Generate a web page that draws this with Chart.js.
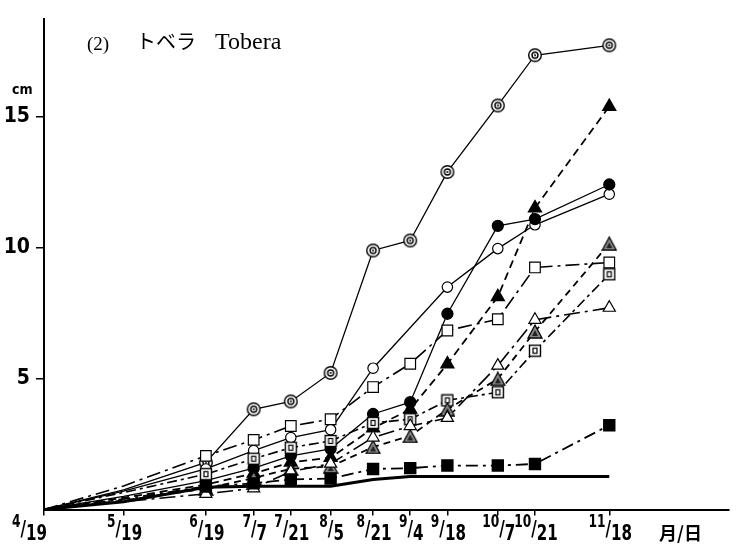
<!DOCTYPE html>
<html><head><meta charset="utf-8">
<script src="https://cdn.jsdelivr.net/npm/chart.js@4/dist/chart.umd.min.js"></script>
<style>html,body{margin:0;padding:0;background:#fff}#w{width:738px;height:548px}</style>
</head><body><div id="w"><canvas id="c" width="738" height="548"></canvas></div>
<script>
// ---- data ----
const dateLabels = ['4/19','5/19','6/19','7/7','7/21','8/5','8/21','9/4','9/18','10/7','10/21','11/18'];
const dayOffsets = [0,30,61,79,93,108,124,138,152,171,185,213]; // days after 4/19
const yTickValues = [5,10,15];
const doubleCircleSeries = [0,0.75,1.8,3.83,4.13,5.22,9.9,10.28,12.9,15.44,17.36,17.74];
const openCircleSeries   = [0,0.7,1.55,2.25,2.75,3.05,5.4,null,8.5,9.97,10.88,12.05];
const filledCircleSeries = [0,0.5,1.1,1.58,2.05,2.32,3.65,4.1,7.48,10.84,11.1,12.42];
const filledTriSeries    = [0,0.45,0.95,1.38,1.8,1.98,3.11,3.83,5.56,8.13,11.52,15.4];
const openSquareSeries   = [0,0.9,2.05,2.66,3.19,3.45,4.68,5.57,6.84,7.27,9.25,9.44];
const shadedTriSeries    = [0,0.35,0.8,1.2,1.56,1.64,2.39,2.81,3.83,4.99,6.8,10.16];
const openTriSeries      = [0,0.3,0.6,0.81,1.45,1.75,2.75,3.19,3.5,5.5,7.25,7.71];
const dotSquareSeries    = [0,0.65,1.35,1.94,2.36,2.62,3.31,3.45,4.17,4.48,6.07,8.99];
const filledSquareSeries = [0,0.4,0.88,1.0,1.15,1.18,1.55,1.58,1.68,1.68,1.74,3.22];
const controlSeries      = [0,0.3,0.85,0.89,0.89,0.89,1.15,1.26,1.26,1.26,1.26,1.26];

// ---- marker images ----
function mk(w, h, fn){ const c=document.createElement('canvas'); c.width=w; c.height=h; const g=c.getContext('2d'); fn(g); return c; }
const dblCircleImg = mk(16,16,g=>{ g.lineWidth=1.4; g.strokeStyle='#000'; g.fillStyle='#fff';
  g.beginPath(); g.arc(8,8,6.3,0,Math.PI*2); g.fill(); g.stroke();
  g.beginPath(); g.arc(8,8,3,0,Math.PI*2); g.stroke();
  g.fillStyle='#000'; g.beginPath(); g.arc(8,8,1,0,Math.PI*2); g.fill(); });
const dotSquareImg = mk(14,14,g=>{ g.lineWidth=1.4; g.strokeStyle='#000'; g.fillStyle='#fff';
  g.fillRect(1.5,1.5,11,11); g.strokeRect(1.5,1.5,11,11);
  g.lineWidth=1.2; g.strokeRect(5,4.5,4,5); });
const shadedTriImg = mk(16,15,g=>{ g.lineWidth=1.3; g.strokeStyle='#000'; g.fillStyle='#8a8a8a';
  g.beginPath(); g.moveTo(8,1); g.lineTo(15,14); g.lineTo(1,14); g.closePath(); g.fill(); g.stroke();
  g.fillStyle='#222'; g.beginPath(); g.moveTo(8,6); g.lineTo(11,12); g.lineTo(5,12); g.closePath(); g.fill(); });

function radii(r){ return dayOffsets.map((d,i)=> i<2 ? 0 : r); }
function pts(arr){ return dayOffsets.map((d,i)=>({x:d, y:arr[i]})); }

const datasets = [
  {data:pts(controlSeries), borderColor:'#000', borderWidth:3, pointRadius:0},
  {data:pts(filledSquareSeries), borderColor:'#000', borderWidth:1.8, borderDash:[12,5,3,5], pointStyle:'rect', pointRadius:radii(7.5), pointBackgroundColor:'#000', pointBorderColor:'#000'},
  {data:pts(openTriSeries), borderColor:'#000', borderWidth:1.6, borderDash:[16,5,3,5], pointStyle:'triangle', pointRadius:radii(7), pointBackgroundColor:'#fff', pointBorderColor:'#000', pointBorderWidth:1.2},
  {data:pts(shadedTriSeries), borderColor:'#000', borderWidth:1.8, borderDash:[7,5], pointStyle:shadedTriImg, pointRadius:radii(7)},
  {data:pts(dotSquareSeries), borderColor:'#000', borderWidth:1.6, borderDash:[10,4,3,4], pointStyle:dotSquareImg, pointRadius:radii(7)},
  {data:pts(filledTriSeries), borderColor:'#000', borderWidth:1.8, borderDash:[8,5], pointStyle:'triangle', pointRadius:radii(7), pointBackgroundColor:'#000', pointBorderColor:'#000'},
  {data:pts(openSquareSeries), borderColor:'#000', borderWidth:1.6, borderDash:[14,5,3,5], pointStyle:'rect', pointRadius:radii(7.5), pointBackgroundColor:'#fff', pointBorderColor:'#000', pointBorderWidth:1.2},
  {data:pts(filledCircleSeries), borderColor:'#000', borderWidth:1.3, pointStyle:'circle', pointRadius:radii(5.5), pointBackgroundColor:'#000', pointBorderColor:'#000'},
  {data:pts(openCircleSeries), borderColor:'#000', borderWidth:1.3, spanGaps:true, pointStyle:'circle', pointRadius:radii(5.2), pointBackgroundColor:'#fff', pointBorderColor:'#000', pointBorderWidth:1.2},
  {data:pts(doubleCircleSeries), borderColor:'#000', borderWidth:1.3, pointStyle:dblCircleImg, pointRadius:radii(7)},
];

const NARROW = '"Liberation Sans Narrow","DejaVu Sans Condensed",sans-serif';

const textPlugin = {
  id:'texts',
  afterDraw(chart){
    const ctx = chart.ctx, xs = chart.scales.x;
    ctx.save();
    ctx.fillStyle = '#000';
    // x tick labels in fraction style
    dateLabels.forEach((lab,i)=>{
      const [num, den] = lab.split('/');
      const px = xs.getPixelForValue(dayOffsets[i]);
      const sx = 0.8;
      ctx.font = 'bold 17px ' + NARROW;
      const wn = ctx.measureText(num).width*sx;
      ctx.font = 'bold 21px ' + NARROW;
      const ws = ctx.measureText('/').width*sx;
      const wd = ctx.measureText(den).width*sx;
      const total = wn + ws + wd;
      let x0 = px - total/2 + 1;
      if (i===0) x0 = 12;
      ctx.save(); ctx.translate(x0, 0); ctx.scale(sx, 1);
      ctx.textBaseline = 'alphabetic'; ctx.textAlign = 'left';
      ctx.font = 'bold 17px ' + NARROW;
      ctx.fillText(num, 0, 527);
      ctx.font = 'bold 21px ' + NARROW;
      ctx.fillText('/', wn/sx, 536);
      ctx.fillText(den, (wn+ws)/sx, 540);
      ctx.restore();
    });
    // unit labels
    ctx.font = 'bold 18px "Noto Sans CJK JP",sans-serif';
    ctx.textAlign = 'left'; ctx.textBaseline = 'alphabetic';
    ctx.fillText('月/日', 659, 540);
    ctx.font = 'bold 14px ' + NARROW;
    ctx.fillText('cm', 12, 94);
    // title
    ctx.font = '19px "Liberation Serif",serif';
    ctx.fillText('(2)', 87, 50);
    ctx.font = '20px "Noto Sans CJK JP",sans-serif';
    ctx.fillText('トベラ', 136, 49);
    ctx.font = '24px "Liberation Serif",serif';
    ctx.fillText('Tobera', 215, 49);
    ctx.restore();
  }
};

new Chart(document.getElementById('c'), {
  type:'line',
  data:{datasets},
  options:{
    responsive:false, animation:false, devicePixelRatio:1,
    layout:{padding:{top:12,left:0,right:0,bottom:0}},
    plugins:{legend:{display:false}, tooltip:{enabled:false}},
    elements:{line:{tension:0}},
    scales:{
      x:{type:'linear', min:0, max:258,
        afterBuildTicks:s=>{ s.ticks = dayOffsets.map(v=>({value:v})); },
        afterFit:s=>{ s.height = 38.5; },
        ticks:{display:false},
        grid:{drawOnChartArea:false, drawTicks:true, tickLength:6, color:'#000', lineWidth:1.5},
        border:{display:true, color:'#000', width:2}
      },
      y:{type:'linear', min:0, max:18.76,
        afterBuildTicks:s=>{ s.ticks = yTickValues.map(v=>({value:v})); },
        afterFit:s=>{ s.width = 44; },
        ticks:{color:'#000', padding:6, font:{family:NARROW, size:21, weight:'bold'}},
        grid:{drawOnChartArea:false, drawTicks:true, tickLength:8, color:'#000', lineWidth:1.5},
        border:{display:true, color:'#000', width:2}
      }
    }
  },
  plugins:[textPlugin]
});
</script></body></html>
